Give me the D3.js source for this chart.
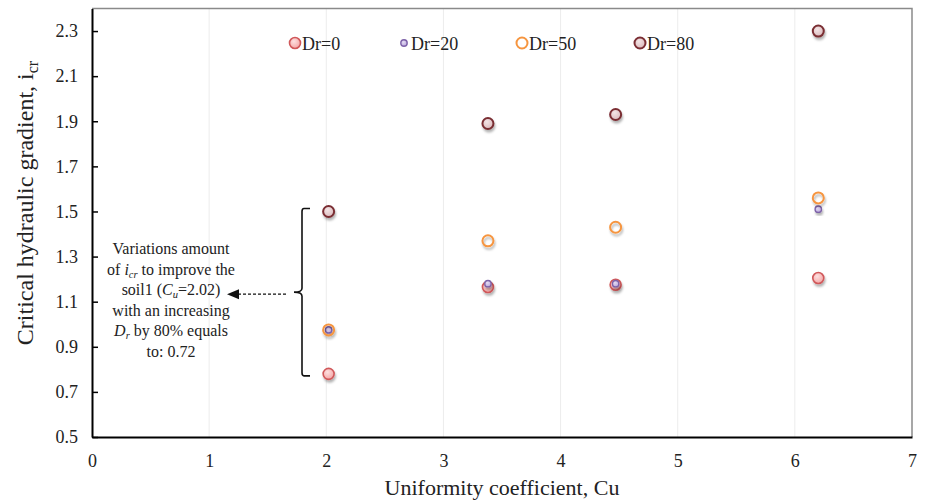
<!DOCTYPE html>
<html>
<head>
<meta charset="utf-8">
<script src="https://cdn.jsdelivr.net/npm/d3@7/dist/d3.min.js"></script>
<style>
  html, body { margin: 0; padding: 0; background: #fff; }
  svg { display: block; font-family: "Liberation Serif", "Times New Roman", serif; }
</style>
</head>
<body>
<svg id="chart" width="925" height="501"></svg>
<script>
// Uniformity coefficient of each soil
const cu = [2.02, 3.38, 4.47, 6.2];
// Critical hydraulic gradient for each relative density
const dr0  = [0.78, 1.165, 1.175, 1.205];
const dr20 = [0.975, 1.18, 1.18, 1.51];
const dr50 = [0.975, 1.37, 1.43, 1.56];
const dr80 = [1.50, 1.89, 1.93, 2.30];
const seriesNames = ["Dr=0", "Dr=20", "Dr=50", "Dr=80"];
const xTicks = [0, 1, 2, 3, 4, 5, 6, 7];
const yTicks = [0.5, 0.7, 0.9, 1.1, 1.3, 1.5, 1.7, 1.9, 2.1, 2.3];

const svg = d3.select("#chart");
const pLeft = 92, pRight = 912, pTop = 8.5, pBottom = 437;
const serif = "Liberation Serif, Times New Roman, serif";

const x = d3.scaleLinear().domain([0, 7]).range([pLeft, pRight]);
const y = d3.scaleLinear().domain([0.5, 2.4]).range([pBottom, pTop]);

// marker shadow and fills
const defs = svg.append("defs");
const f = defs.append("filter").attr("id", "shadow")
  .attr("x", "-50%").attr("y", "-50%").attr("width", "200%").attr("height", "200%");
f.append("feDropShadow").attr("dx", 1).attr("dy", 2.5).attr("stdDeviation", 1.3)
  .attr("flood-color", "#000").attr("flood-opacity", 0.3);
function radial(id, c0, c1) {
  const g = defs.append("radialGradient").attr("id", id).attr("cx", "40%").attr("cy", "35%").attr("r", "70%");
  g.append("stop").attr("offset", "0%").attr("stop-color", c0);
  g.append("stop").attr("offset", "100%").attr("stop-color", c1);
}
radial("fill0", "#fde0e0", "#f4a3a3");
radial("fill20", "#e4dcf3", "#b9a6dc");
radial("fill80", "#f3e4e5", "#d9b8bb");

// vertical gridlines
svg.append("g").selectAll("line").data(xTicks.slice(1, -1)).join("line")
  .attr("x1", d => x(d)).attr("x2", d => x(d))
  .attr("y1", pTop).attr("y2", pBottom)
  .attr("stroke", "#ececec").attr("stroke-width", 1);

// plot frame (top and right)
svg.append("path")
  .attr("d", `M${pLeft},${pTop}H${pRight}V${pBottom}`)
  .attr("fill", "none").attr("stroke", "#8a8a8a").attr("stroke-width", 1.5);

// axes
const yAxis = svg.append("g").attr("transform", `translate(${pLeft},0)`)
  .call(d3.axisLeft(y).tickValues(yTicks).tickFormat(d3.format(".1f"))
    .tickSizeInner(-6).tickSizeOuter(0).tickPadding(14));
yAxis.attr("font-family", serif);
yAxis.select(".domain").attr("stroke", "#000").attr("stroke-width", 2);
yAxis.selectAll(".tick line").attr("stroke", "#000").attr("stroke-width", 1.5);
yAxis.selectAll(".tick text").attr("font-size", 18).attr("fill", "#222");

const xAxis = svg.append("g").attr("transform", `translate(0,${pBottom})`)
  .call(d3.axisBottom(x).tickValues(xTicks).tickFormat(d3.format("d")).tickSize(0).tickPadding(17));
xAxis.attr("font-family", serif);
xAxis.select(".domain").attr("stroke", "#000").attr("stroke-width", 2);
xAxis.selectAll(".tick text").attr("font-size", 18).attr("fill", "#222");

// axis titles
svg.append("text").attr("x", (pLeft + pRight) / 2).attr("y", 495)
  .attr("text-anchor", "middle").attr("font-size", 22).attr("fill", "#222")
  .text("Uniformity coefficient, Cu");
const yt = svg.append("text").attr("transform", "translate(33,203) rotate(-90)")
  .attr("text-anchor", "middle").attr("font-size", 24).attr("fill", "#222");
yt.append("tspan").text("Critical hydraulic gradient, i");
yt.append("tspan").attr("font-size", 16).attr("dy", 5).text("cr");

// series styles
const styles = [
  { r: 5.5, fill: "url(#fill0)", stroke: "#d0585a", sw: 1.6 },
  { r: 3.2, fill: "url(#fill20)", stroke: "#7d62a8", sw: 1.4 },
  { r: 5.5, fill: "none", stroke: "#f6953f", sw: 2 },
  { r: 5.5, fill: "url(#fill80)", stroke: "#7a2d33", sw: 2 }
];
const series = [dr0, dr20, dr50, dr80];

series.forEach((vals, i) => {
  const s = styles[i];
  svg.append("g").selectAll("circle").data(vals.map((v, k) => [cu[k], v])).join("circle")
    .attr("cx", d => x(d[0])).attr("cy", d => y(d[1])).attr("r", s.r)
    .attr("fill", s.fill).attr("stroke", s.stroke).attr("stroke-width", s.sw)
    .attr("filter", "url(#shadow)");
});

// legend
const legendX = [295, 404, 522, 640];
const lg = svg.append("g");
seriesNames.forEach((name, i) => {
  const s = styles[i];
  lg.append("circle").attr("cx", legendX[i]).attr("cy", 43).attr("r", s.r)
    .attr("fill", s.fill === "none" ? "#fff" : s.fill).attr("stroke", s.stroke).attr("stroke-width", s.sw);
  lg.append("text").attr("x", legendX[i] + 7).attr("y", 49.5)
    .attr("font-size", 18).attr("fill", "#222").text(name);
});

// brace spanning Dr=0 to Dr=80 at the first soil
const bx = 302, bTop = y(dr80[0]) - 3, bBot = y(dr0[0]) + 2, bMid = (bTop + bBot) / 2;
svg.append("path")
  .attr("d", `M${bx + 8},${bTop} H${bx + 2} Q${bx},${bTop} ${bx},${bTop + 3}
              V${bMid - 4} Q${bx},${bMid} ${bx - 8},${bMid}
              Q${bx},${bMid} ${bx},${bMid + 4}
              V${bBot - 3} Q${bx},${bBot} ${bx + 2},${bBot} H${bx + 8}`)
  .attr("fill", "none").attr("stroke", "#111").attr("stroke-width", 1.6);

// dashed arrow pointing to the note
svg.append("line").attr("x1", 286).attr("x2", 238).attr("y1", bMid + 2).attr("y2", bMid + 2)
  .attr("stroke", "#111").attr("stroke-width", 1.4).attr("stroke-dasharray", "3,2");
svg.append("path")
  .attr("d", `M227,${bMid + 2} L239,${bMid - 3} L239,${bMid + 7} Z`)
  .attr("fill", "#111");

// note text: each line is a list of [text, style] runs
const cx = 171, ly0 = 254, lh = 20.6;
const lines = [
  [["Variations amount", ""]],
  [["of ", ""], ["i", "i"], ["cr", "is"], [" to improve the", ""]],
  [["soil1 (", ""], ["C", "i"], ["u", "is"], ["=2.02)", ""]],
  [["with an increasing", ""]],
  [["D", "i"], ["r", "is"], [" by 80% equals", ""]],
  [["to: 0.72", ""]]
];
lines.forEach((parts, li) => {
  const t = svg.append("text").attr("x", cx).attr("y", ly0 + li * lh)
    .attr("text-anchor", "middle").attr("font-size", 16).attr("fill", "#222");
  let prevSub = false;
  parts.forEach(([str, kind]) => {
    const sp = t.append("tspan").text(str);
    if (kind === "i") sp.attr("font-style", "italic");
    if (kind === "is") {
      sp.attr("font-style", "italic").attr("font-size", 10.5).attr("dy", 3);
    } else if (prevSub) {
      sp.attr("dy", -3);
    }
    prevSub = kind === "is";
  });
});
</script>
</body>
</html>
